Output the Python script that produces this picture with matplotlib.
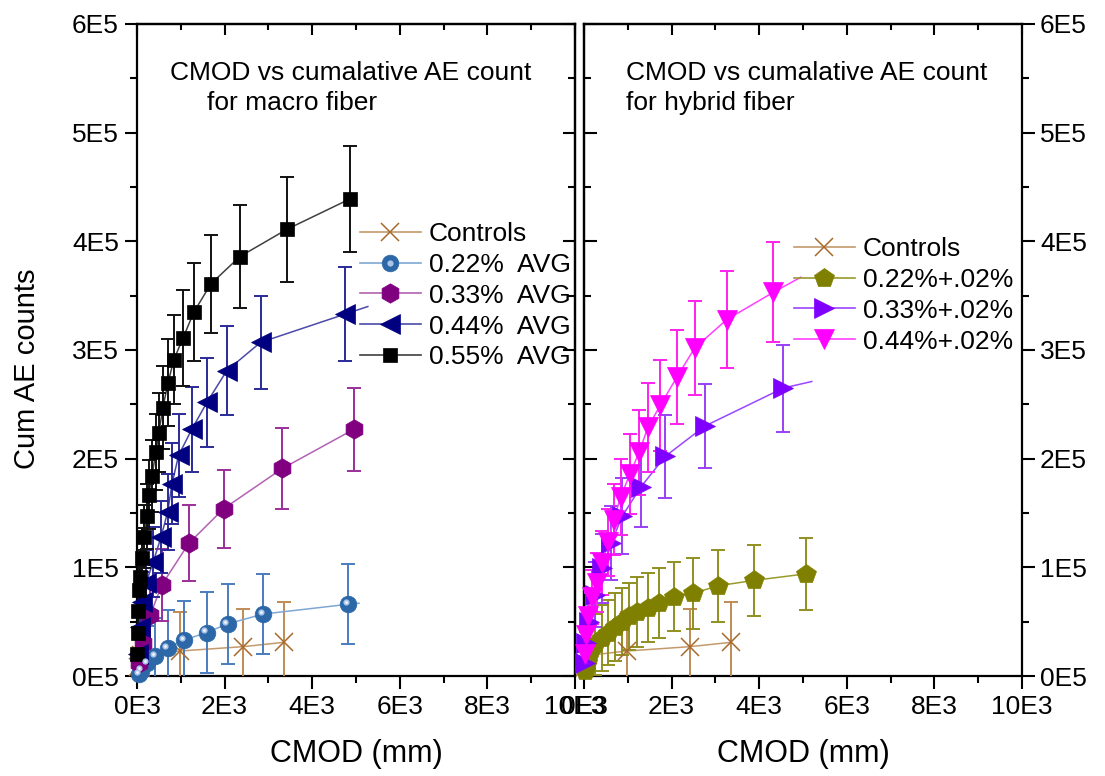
import matplotlib
matplotlib.use("Agg")
import matplotlib.pyplot as plt
from matplotlib.lines import Line2D
from matplotlib.legend_handler import HandlerTuple
from matplotlib.ticker import MultipleLocator, FuncFormatter
from matplotlib.transforms import offset_copy

plt.rcParams['font.family'] = ['Liberation Sans', 'DejaVu Sans']

# ---- data (x in mm units as on axis, y in counts) ----
# controls, same specimens shown on both panels
ctrl_x = [30, 100, 980, 2420, 3360]
ctrl_y = [8000, 19000, 23000, 27000, 31000]
ctrl_err = [20000, 30000, 36000, 35000, 37000]

# macro fiber
m22_x = [50, 100, 230, 410, 700, 1070, 1590, 2070, 2880, 4820]
m22_y = [2000, 5000, 12000, 18000, 26000, 33000, 40000, 48000, 57000, 66000]
m22_err = [30000, 32000, 34000, 35000, 35000, 36000, 37000, 37000, 37000, 37000]
m22_end = (5070, 67000)

m33_x = [50, 140, 300, 570, 1180, 1980, 3320, 4950]
m33_y = [12000, 30000, 56000, 84000, 122000, 154000, 191000, 227000]
m33_err = [25000, 30000, 32000, 33000, 35000, 36000, 37000, 38000]
m33_end = (4950, 227000)

m44_x = [20, 60, 120, 210, 370, 550, 700, 800, 950, 1250, 1600, 2050, 2820, 4750]
m44_y = [20000, 45000, 68000, 86000, 105000, 128000, 151000, 177000, 203000,
         227000, 252000, 281000, 307000, 333000]
m44_err = [15000, 22000, 28000, 30000, 32000, 33000, 35000, 37000, 38000,
           39000, 41000, 41000, 43000, 43000]
m44_end = (5270, 340000)

m55_x = [10, 20, 30, 50, 70, 110, 160, 230, 270, 340, 430, 500, 590, 710, 840,
         1050, 1300, 1690, 2350, 3420, 4860]
m55_y = [20000, 40000, 60000, 79000, 91000, 109000, 128000, 147000, 167000,
         184000, 206000, 224000, 247000, 270000, 291000, 311000, 335000,
         361000, 386000, 411000, 439000]
m55_err = [12000, 16000, 20000, 22000, 25000, 27000, 29000, 30000, 32000, 33000,
           35000, 36000, 38000, 40000, 41000, 44000, 45000, 45000, 47000, 48000,
           49000]
m55_end = (4860, 439000)

# hybrid fiber
h22_x = [20, 60, 140, 250, 410, 550, 710, 870, 1030, 1210, 1460, 1710, 2050,
         2490, 3060, 3880, 5070]
h22_y = [5000, 12000, 21000, 29000, 35000, 40000, 45000, 50000, 55000, 59000,
         63000, 67000, 73000, 76000, 83000, 88000, 94000]
h22_err = [15000, 20000, 25000, 28000, 30000, 30000, 31000, 31000, 31000, 32000,
           32000, 32000, 32000, 33000, 33000, 33000, 33000]
h22_end = (5070, 94000)

h33_x = [20, 50, 120, 250, 410, 620, 870, 1300, 1850, 2760, 4550]
h33_y = [12000, 30000, 50000, 75000, 99000, 122000, 147000, 174000, 202000,
         230000, 265000]
h33_err = [12000, 20000, 26000, 30000, 32000, 34000, 35000, 37000, 38000, 39000,
           40000]
h33_end = (5200, 271000)

h44_x = [20, 50, 100, 180, 300, 410, 550, 680, 840, 1050, 1260, 1460, 1740,
         2120, 2530, 3260, 4320]
h44_y = [20000, 38000, 55000, 73000, 86000, 104000, 123000, 144000, 165000,
         186000, 206000, 229000, 249000, 275000, 302000, 328000, 353000]
h44_err = [12000, 18000, 22000, 25000, 27000, 29000, 31000, 33000, 35000, 37000,
           39000, 41000, 42000, 43000, 43000, 45000, 46000]
h44_end = (4950, 367000)

x_max, y_max = 10000, 600000
W, H = 1105, 776

fig = plt.figure(figsize=(W / 100, H / 100), dpi=100)
ax1 = fig.add_axes([137 / W, 1 - 676 / H, 438 / W, 652 / H])
ax2 = fig.add_axes([584 / W, 1 - 676 / H, 438 / W, 652 / H])

FS = 19


def setup(ax, label_side):
    ax.set_xlim(0, x_max)
    ax.set_ylim(0, y_max)
    for s in ax.spines.values():
        s.set_linewidth(1.6)
    ax.xaxis.set_major_locator(MultipleLocator(2000))
    ax.xaxis.set_minor_locator(MultipleLocator(1000))
    ax.yaxis.set_major_locator(MultipleLocator(100000))
    ax.yaxis.set_minor_locator(MultipleLocator(50000))
    ax.xaxis.set_major_formatter(FuncFormatter(lambda v, p: f"{v / 1e3:.0f}E3"))
    ax.yaxis.set_major_formatter(FuncFormatter(lambda v, p: f"{v / 1e5:.0f}E5"))
    ax.tick_params(axis='x', which='both', direction='out', top=False,
                   labelsize=FS, width=1.5, pad=5)
    ax.tick_params(axis='x', which='major', length=9)
    ax.tick_params(axis='x', which='minor', length=5)
    if label_side == 'left':
        ax.tick_params(axis='y', which='both', direction='out', right=False,
                       left=True, labelleft=True, labelright=False,
                       labelsize=FS, width=1.5, pad=4)
    else:
        ax.tick_params(axis='y', which='both', direction='out', left=False,
                       right=True, labelleft=False, labelright=True,
                       labelsize=FS, width=1.5, pad=4)
    ax.tick_params(axis='y', which='major', length=9)
    ax.tick_params(axis='y', which='minor', length=5)

    # inward ticks on the opposite sides
    top = ax.secondary_xaxis('top')
    top.xaxis.set_major_locator(MultipleLocator(2000))
    top.xaxis.set_minor_locator(MultipleLocator(1000))
    top.tick_params(which='both', direction='in', labeltop=False, width=1.5)
    top.tick_params(which='major', length=8)
    top.tick_params(which='minor', length=4)
    top.spines['top'].set_linewidth(1.6)
    other = 'right' if label_side == 'left' else 'left'
    sec = ax.secondary_yaxis(other)
    sec.yaxis.set_major_locator(MultipleLocator(100000))
    sec.yaxis.set_minor_locator(MultipleLocator(50000))
    sec.tick_params(which='both', direction='in', labelleft=False,
                    labelright=False, width=1.5)
    sec.tick_params(which='major', length=9)
    sec.tick_params(which='minor', length=5)
    sec.spines[other].set_linewidth(1.6)
    ax.set_xlabel('CMOD (mm)', fontsize=22, labelpad=14)


setup(ax1, 'left')
setup(ax2, 'right')


def series(ax, x, y, err, end, marker, mc, lc, ec, ms, mew=0.5, zo=3):
    lx, ly = list(x), list(y)
    if end and end[0] > x[-1]:
        lx.append(end[0])
        ly.append(end[1])
    ax.plot([0] + lx, [0] + ly, color=lc, lw=1.1, zorder=zo)
    ax.errorbar(x, y, yerr=err, fmt='none', ecolor=ec, elinewidth=1.4,
                capsize=5, capthick=1.4, zorder=zo)
    ax.plot(x, y, ls='none', marker=marker, ms=ms, color=mc, mec=mc, mew=mew,
            zorder=zo + 0.5, clip_on=False)
    return Line2D([], [], color=lc, lw=1.2, marker=marker, ms=ms, mfc=mc,
                  mec=mc, mew=mew)


# controls
ctrl_mc, ctrl_lc, ctrl_ec = '#A8692C', '#C49A6C', '#BF8B52'
hc1 = series(ax1, ctrl_x, ctrl_y, ctrl_err, None, 'x', ctrl_mc, ctrl_lc, ctrl_ec, 13, mew=1.1)
hc2 = series(ax2, ctrl_x, ctrl_y, ctrl_err, None, 'x', ctrl_mc, ctrl_lc, ctrl_ec, 13, mew=1.1)

# macro
h1 = series(ax1, m22_x, m22_y, m22_err, m22_end, 'o', '#2C67A8', '#7FA7D3', '#4A7DBE', 12)
hl = offset_copy(ax1.transData, fig=fig, x=-1.6, y=1.6, units='points')
ax1.plot(m22_x, m22_y, ls='none', marker='o', ms=4.5, color='#A9C6E8', mew=0,
         transform=hl, zorder=3.6, clip_on=False)
ax1.plot(m22_x, m22_y, ls='none', marker='o', ms=2, color='#F2F7FC', mew=0,
         transform=hl, zorder=3.7, clip_on=False)
h1 = (h1, Line2D([], [], ls='none', marker='o', ms=4.5, color='#A9C6E8', mew=0))
h2 = series(ax1, m33_x, m33_y, m33_err, m33_end, 'h', '#800080', '#B262B2', '#9A2F9A', 14)
h3 = series(ax1, m44_x, m44_y, m44_err, m44_end, '<', '#000080', '#4A4AA8', '#2A2A98', 14)
h4 = series(ax1, m55_x, m55_y, m55_err, m55_end, 's', '#000000', '#404040', '#111111', 10.5)

# hybrid
g1 = series(ax2, h22_x, h22_y, h22_err, h22_end, 'p', '#808000', '#9A9A2A', '#8F8F20', 15)
g2 = series(ax2, h33_x, h33_y, h33_err, h33_end, '>', '#8000FF', '#9B45FF', '#9A40F5', 14)
g3 = series(ax2, h44_x, h44_y, h44_err, h44_end, 'v', '#FF00FF', '#FF40FF', '#FF20F0', 14)

leg_kw = dict(frameon=False, fontsize=FS, handlelength=2.3, handletextpad=0.3,
              labelspacing=0.26, borderpad=0, borderaxespad=0, loc='upper left')
ax1.legend([hc1, h1, h2, h3, h4],
           ['Controls', '0.22%  AVG', '0.33%  AVG', '0.44%  AVG', '0.55%  AVG'],
           handler_map={tuple: HandlerTuple(ndivide=1)},
           bbox_to_anchor=(360 / W, 1 - 222 / H), bbox_transform=fig.transFigure,
           **leg_kw)
ax2.legend([hc2, g1, g2, g3],
           ['Controls', '0.22%+.02%', '0.33%+.02%', '0.44%+.02%'],
           bbox_to_anchor=(794 / W, 1 - 237 / H), bbox_transform=fig.transFigure,
           **leg_kw)

# panel captions
fig.text(170 / W, 1 - 73 / H, 'CMOD vs cumalative AE count', fontsize=FS, va='center')
fig.text(207 / W, 1 - 103 / H, 'for macro fiber', fontsize=FS, va='center')
fig.text(626 / W, 1 - 73 / H, 'CMOD vs cumalative AE count', fontsize=FS, va='center')
fig.text(626 / W, 1 - 103 / H, 'for hybrid fiber', fontsize=FS, va='center')

fig.text(27 / W, 1 - 369 / H, 'Cum AE counts', fontsize=21, rotation=90,
         ha='center', va='center')

fig.savefig('out.png', dpi=100)
